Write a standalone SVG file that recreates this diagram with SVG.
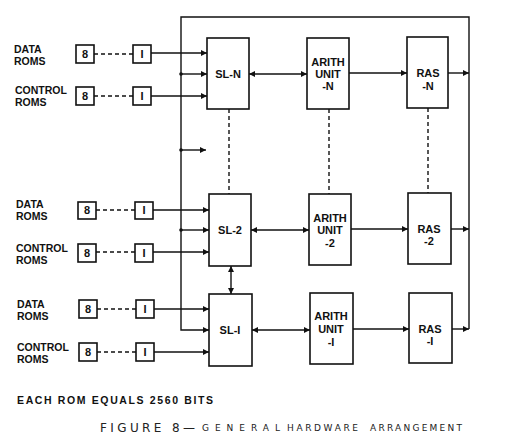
<svg xmlns="http://www.w3.org/2000/svg" width="519" height="438" viewBox="0 0 519 438">
<style>
.box{fill:#fff;stroke:#111;stroke-width:1.6}
.ln{fill:none;stroke:#111;stroke-width:1.4}
.ds{fill:none;stroke:#111;stroke-width:1.4;stroke-dasharray:4 3}
.lbl{font-family:"Liberation Sans",Arial,sans-serif;font-weight:bold;font-size:10.5px;fill:#111}
.bt{font-family:"Liberation Sans",Arial,sans-serif;font-weight:bold;font-size:11px;fill:#111;text-anchor:middle}
.hand{font-family:"DejaVu Sans",sans-serif;fill:#222}
</style>
<defs>
<marker id="ah" viewBox="0 0 10 10" refX="10" refY="5" markerWidth="7" markerHeight="6" markerUnits="userSpaceOnUse" orient="auto-start-reverse">
<path d="M0,0 L10,5 L0,10 Z" fill="#111"/>
</marker>
</defs>
<rect width="519" height="438" fill="#fff"/>
<g id="connectors">
<path class="ln" d="M469,329 V17 H181 V330 H209" marker-end="url(#ah)"/>
<line class="ln" x1="181" y1="74" x2="207" y2="74" marker-end="url(#ah)"/>
<line class="ln" x1="181" y1="150" x2="206" y2="150" marker-end="url(#ah)"/>
<line class="ln" x1="181" y1="230" x2="209" y2="230" marker-end="url(#ah)"/>
<circle cx="181" cy="74" r="1.8" fill="#111"/>
<circle cx="181" cy="150" r="1.8" fill="#111"/>
<circle cx="181" cy="230" r="1.8" fill="#111"/>
<line class="ln" x1="448" y1="73" x2="469" y2="73" marker-end="url(#ah)"/>
<line class="ln" x1="451" y1="229" x2="469" y2="229" marker-end="url(#ah)"/>
<line class="ln" x1="452" y1="329" x2="469" y2="329" marker-end="url(#ah)"/>
<line class="ln" x1="349" y1="73" x2="407" y2="73" marker-end="url(#ah)"/>
<line class="ln" x1="351" y1="229" x2="408" y2="229" marker-end="url(#ah)"/>
<line class="ln" x1="353" y1="329" x2="409" y2="329" marker-end="url(#ah)"/>
<line class="ln" x1="249" y1="74" x2="307" y2="74" marker-start="url(#ah)" marker-end="url(#ah)"/>
<line class="ln" x1="251" y1="230" x2="309" y2="230" marker-start="url(#ah)" marker-end="url(#ah)"/>
<line class="ln" x1="252" y1="330" x2="310" y2="330" marker-start="url(#ah)" marker-end="url(#ah)"/>
<line class="ln" x1="231" y1="266" x2="231" y2="294" marker-start="url(#ah)" marker-end="url(#ah)"/>
<line class="ds" x1="229" y1="109" x2="229" y2="194"/>
<line class="ds" x1="329" y1="109" x2="329" y2="194"/>
<line class="ds" x1="428" y1="108" x2="428" y2="193"/>
<line class="ds" x1="94" y1="54" x2="133" y2="54"/>
<line class="ln" x1="151" y1="53" x2="207" y2="53" marker-end="url(#ah)"/>
<line class="ds" x1="94" y1="96" x2="133" y2="96"/>
<line class="ln" x1="151" y1="96" x2="207" y2="96" marker-end="url(#ah)"/>
<line class="ds" x1="96" y1="210" x2="135" y2="210"/>
<line class="ln" x1="153" y1="210" x2="209" y2="210" marker-end="url(#ah)"/>
<line class="ds" x1="96" y1="252" x2="135" y2="252"/>
<line class="ln" x1="153" y1="252" x2="209" y2="252" marker-end="url(#ah)"/>
<line class="ds" x1="97" y1="309" x2="136" y2="309"/>
<line class="ln" x1="154" y1="309" x2="209" y2="309" marker-end="url(#ah)"/>
<line class="ds" x1="97" y1="352" x2="136" y2="352"/>
<line class="ln" x1="154" y1="352" x2="209" y2="352" marker-end="url(#ah)"/>
</g>
<g id="sl-n"><rect class="box" x="207" y="38" width="42" height="71"/><text class="bt" x="228" y="78">SL-N</text></g>
<g id="arith-n"><rect class="box" x="307" y="38" width="42" height="71"/><text class="bt" x="328" y="66">ARITH</text><text class="bt" x="328" y="78">UNIT</text><text class="bt" x="328" y="90">-N</text></g>
<g id="ras-n"><rect class="box" x="407" y="37" width="41" height="71"/><text class="bt" x="428" y="77">RAS</text><text class="bt" x="428" y="90">-N</text></g>
<g id="sl-2"><rect class="box" x="209" y="194" width="42" height="72"/><text class="bt" x="230" y="234">SL-2</text></g>
<g id="arith-2"><rect class="box" x="309" y="194" width="42" height="71"/><text class="bt" x="330" y="222">ARITH</text><text class="bt" x="330" y="234">UNIT</text><text class="bt" x="330" y="247">-2</text></g>
<g id="ras-2"><rect class="box" x="408" y="193" width="43" height="71"/><text class="bt" x="429" y="233">RAS</text><text class="bt" x="429" y="245">-2</text></g>
<g id="sl-1"><rect class="box" x="209" y="294" width="43" height="72"/><text class="bt" x="230" y="334">SL-I</text></g>
<g id="arith-1"><rect class="box" x="310" y="293" width="43" height="71"/><text class="bt" x="331" y="320">ARITH</text><text class="bt" x="331" y="333">UNIT</text><text class="bt" x="331" y="346">-I</text></g>
<g id="ras-1"><rect class="box" x="409" y="293" width="43" height="70"/><text class="bt" x="430" y="333">RAS</text><text class="bt" x="430" y="345">-I</text></g>
<g id="roms-n">
<text class="lbl" x="14" y="53">DATA</text><text class="lbl" x="14" y="65">ROMS</text>
<text class="lbl" x="15" y="94">CONTROL</text><text class="lbl" x="15" y="106">ROMS</text>
<rect class="box" x="76" y="45" width="18" height="18"/><text class="bt" x="85" y="58">8</text>
<rect class="box" x="133" y="45" width="18" height="18"/><text class="bt" x="142" y="58">I</text>
<rect class="box" x="76" y="87" width="18" height="18"/><text class="bt" x="85" y="100">8</text>
<rect class="box" x="133" y="87" width="18" height="18"/><text class="bt" x="142" y="100">I</text>
</g>
<g id="roms-2">
<text class="lbl" x="16" y="208">DATA</text><text class="lbl" x="16" y="220">ROMS</text>
<text class="lbl" x="16" y="252">CONTROL</text><text class="lbl" x="16" y="264">ROMS</text>
<rect class="box" x="78" y="202" width="18" height="17"/><text class="bt" x="87" y="214">8</text>
<rect class="box" x="135" y="202" width="18" height="17"/><text class="bt" x="144" y="214">I</text>
<rect class="box" x="78" y="244" width="18" height="18"/><text class="bt" x="87" y="257">8</text>
<rect class="box" x="135" y="244" width="18" height="18"/><text class="bt" x="144" y="257">I</text>
</g>
<g id="roms-1">
<text class="lbl" x="17" y="308">DATA</text><text class="lbl" x="17" y="320">ROMS</text>
<text class="lbl" x="17" y="351">CONTROL</text><text class="lbl" x="17" y="363">ROMS</text>
<rect class="box" x="79" y="300" width="18" height="18"/><text class="bt" x="88" y="313">8</text>
<rect class="box" x="136" y="300" width="18" height="18"/><text class="bt" x="145" y="313">I</text>
<rect class="box" x="79" y="343" width="18" height="18"/><text class="bt" x="88" y="356">8</text>
<rect class="box" x="136" y="343" width="18" height="18"/><text class="bt" x="145" y="356">I</text>
</g>
<g id="notes">
<text class="lbl" x="17" y="404" font-size="10px" textLength="196" lengthAdjust="spacing">EACH ROM EQUALS 2560 BITS</text>
<text class="hand" x="100" y="432" font-size="12px" textLength="95" lengthAdjust="spacing">FIGURE 8—</text>
<text class="hand" x="202" y="431" font-size="9px" textLength="78" lengthAdjust="spacing">GENERAL</text>
<text class="hand" x="287" y="431" font-size="9px" textLength="71" lengthAdjust="spacing">HARDWARE</text>
<text class="hand" x="370" y="431" font-size="9px" textLength="92" lengthAdjust="spacing">ARRANGEMENT</text>
</g>
</svg>
